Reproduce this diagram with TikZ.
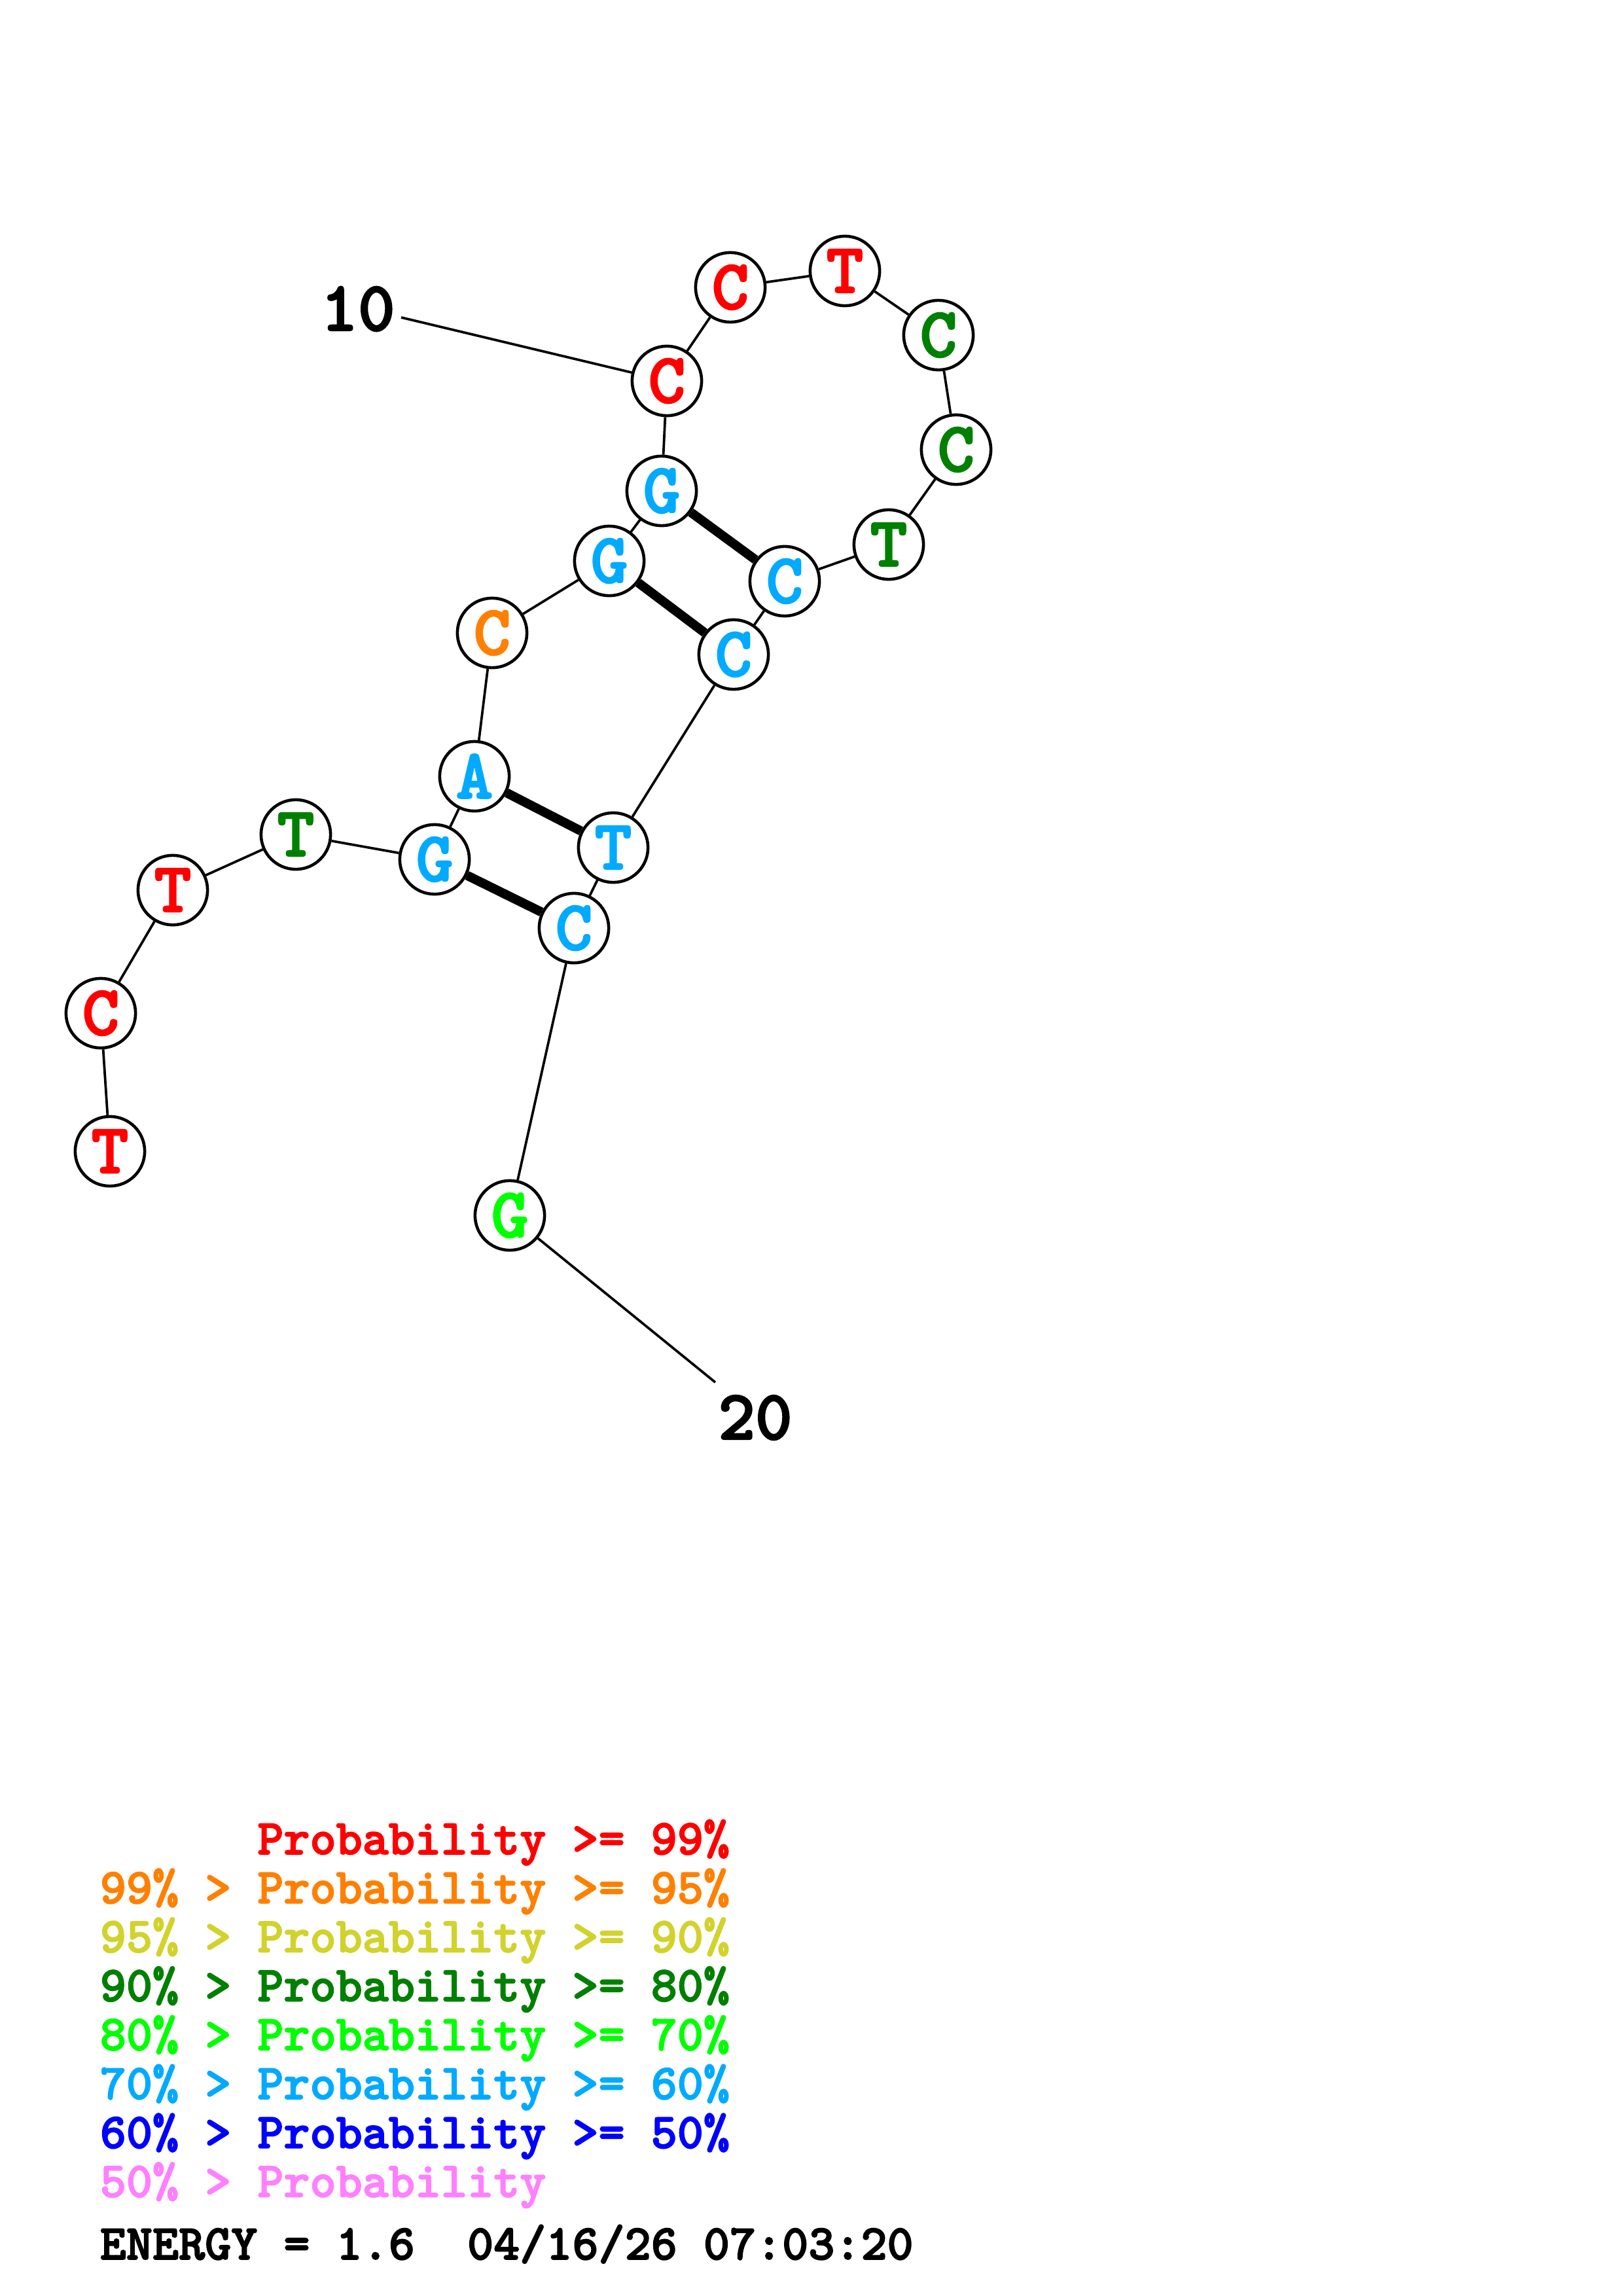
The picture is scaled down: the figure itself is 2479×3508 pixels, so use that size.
\documentclass[tikz,border=0pt]{standalone}
\usepackage{fontspec}
\newfontfamily\monob{lmmonolt10-bold}[Extension=.otf,FakeBold=2.2]
\definecolor{pr99}{RGB}{255,0,0}
\definecolor{pr95}{RGB}{255,128,0}
\definecolor{pr90}{RGB}{210,210,45}
\definecolor{pr80}{RGB}{0,128,0}
\definecolor{pr70}{RGB}{0,255,0}
\definecolor{pr60}{RGB}{0,170,255}
\definecolor{pr50}{RGB}{0,0,255}
\definecolor{prlow}{RGB}{255,128,255}
\begin{document}
\begin{tikzpicture}[x=0.008471cm,y=-0.008471cm,
 nt/.style={circle,draw,line width=1.1pt,fill=white,minimum size=.9cm,inner sep=0pt,
  font=\fontsize{26}{30}\monob},
 pair/.style={line width=3.4pt},
 lg/.style={anchor=base west,inner sep=0pt,
  font=\fontsize{18.4}{22}\monob}]
 \useasboundingbox (0,0) rectangle (2479,3508);
 \path
 (168,1759) node[nt,text=pr99] (n1) {T} % <<< 5' end
 (154,1548) node[nt,text=pr99] (n2) {C}
 (264,1360) node[nt,text=pr99] (n3) {T}
 (452,1275) node[nt,text=pr80] (n4) {T}
 (664,1313) node[nt,text=pr60] (n5) {G}
 (725,1186) node[nt,text=pr60] (n6) {A}
 (752,967) node[nt,text=pr95] (n7) {C}
 (931,857) node[nt,text=pr60] (n8) {G}
 (1011,750) node[nt,text=pr60] (n9) {G}
 (1019,582) node[nt,text=pr99] (n10) {C} % <<< loop
 (1116,439) node[nt,text=pr99] (n11) {C}
 (1291,414) node[nt,text=pr99] (n12) {T}
 (1434,512) node[nt,text=pr80] (n13) {C}
 (1461,687) node[nt,text=pr80] (n14) {C}
 (1358,832) node[nt,text=pr80] (n15) {T}
 (1199,888) node[nt,text=pr60] (n16) {C}
 (1121,1000) node[nt,text=pr60] (n17) {C}
 (937,1295) node[nt,text=pr60] (n18) {T}
 (877,1418) node[nt,text=pr60] (n19) {C}
 (779,1857) node[nt,text=pr70] (n20) {G}; % <<< 3' end
 % backbone
 \begin{scope}[line width=.9pt]
 \foreach \i [count=\j from 2] in {1,...,19}
  \draw (n\i)--(n\j);
 \end{scope}
 % base pairs
 \draw[pair] (n5)--(n19);
 \draw[pair] (n6)--(n18);
 \draw[pair] (n8)--(n17);
 \draw[pair] (n9)--(n16);
 % position labels
 \path
 (547,472) node[font=\fontsize{26}{30}\monob] (l10) {10}
 (1154,2166) node[font=\fontsize{26}{30}\monob] (l20) {20};
 \coordinate (t10) at (613,485);
 \coordinate (t20) at (1093,2112);
 \draw[line width=.9pt] (t10)--(n10);
 \draw[line width=.9pt] (n20)--(t20);
 % legend
 \path
 (152,2833) node[lg,text=pr99] (g1) {\phantom{99\% > }Probability >= 99\%}
 ++(0,74.8) node[lg,text=pr95] (g2) {99\% > Probability >= 95\%}
 ++(0,74.8) node[lg,text=pr90] (g3) {95\% > Probability >= 90\%}
 ++(0,74.8) node[lg,text=pr80] (g4) {90\% > Probability >= 80\%}
 ++(0,74.8) node[lg,text=pr70] (g5) {80\% > Probability >= 70\%}
 ++(0,74.8) node[lg,text=pr60] (g6) {70\% > Probability >= 60\%}
 ++(0,74.8) node[lg,text=pr50] (g7) {60\% > Probability >= 50\%}
 ++(0,74.8) node[lg,text=prlow] (g8) {50\% > Probability}
 (152,3452) node[lg] (en) {ENERGY = 1.6\ \ 04/16/26 07:03:20};
\end{tikzpicture}
\end{document}
